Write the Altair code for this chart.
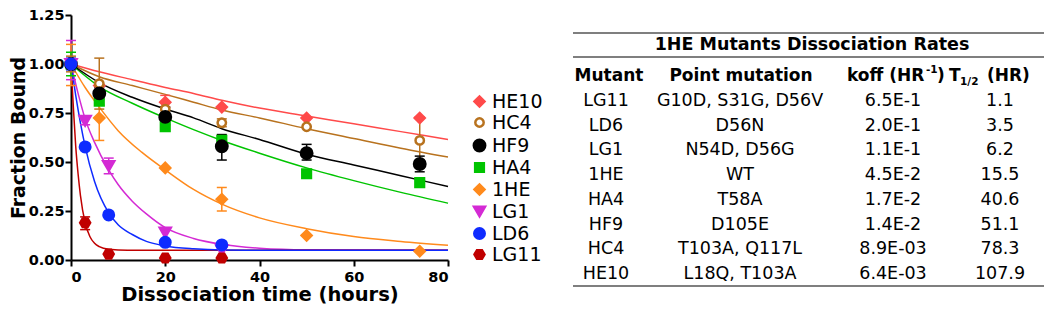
import altair as alt
import pandas as pd

# ---------------- data ----------------
series = ["HE10", "HC4", "HF9", "HA4", "1HE", "LG1", "LD6", "LG11"]
colors = ["#FF4A4A", "#B8721E", "#000000", "#00C400", "#FF8A1C", "#D42AD4", "#0F2BFF", "#C00000"]
fills = ["#FF4A4A", "#FFFFFF", "#000000", "#00C400", "#FF8A1C", "#D42AD4", "#0F2BFF", "#C00000"]
hexagon = "M-1,0L-0.5,-0.866L0.5,-0.866L1,0L0.5,0.866L-0.5,0.866Z"
shapes = ["diamond", "circle", "circle", "square", "diamond", "triangle-down", "circle", hexagon]
sizes = [100, 70, 130, 75, 100, 120, 110, 100]
draw_order = ["HA4", "HE10", "HC4", "HF9", "1HE", "LG1", "LG11", "LD6"]

# measured points (time in hours, fraction bound)
t_HE10 = [0, 6, 20, 32, 50, 74]
v_HE10 = [1.0, 0.89, 0.805, 0.78, 0.725, 0.725]
t_HC4 = [0, 6, 20, 32, 50, 74]
v_HC4 = [1.0, 0.90, 0.77, 0.70, 0.68, 0.61]
t_HF9 = [0, 6, 20, 32, 50, 74]
v_HF9 = [1.0, 0.85, 0.73, 0.58, 0.545, 0.49]
t_HA4 = [0, 6, 20, 32, 50, 74]
v_HA4 = [1.0, 0.81, 0.68, 0.61, 0.44, 0.395]
t_1HE = [0, 6, 20, 32, 50, 74]
v_1HE = [1.0, 0.725, 0.47, 0.31, 0.125, 0.045]
t_LG1 = [0, 3, 8, 20, 32]
v_LG1 = [1.0, 0.71, 0.48, 0.14, 0.05]
t_LD6 = [0, 3, 8, 20, 32]
v_LD6 = [1.0, 0.577, 0.23, 0.09, 0.077]
t_LG11 = [0, 3, 8, 20, 32]
v_LG11 = [1.0, 0.19, 0.03, 0.01, 0.01]

# error bars
err_series = ["LG1", "1HE", "HA4", "HC4", "LD6", "LG1", "LG11", "HC4", "1HE", "HF9", "HA4",
              "LG1", "HE10", "HF9", "HC4", "HC4", "HF9", "1HE", "HF9", "HF9", "HC4"]
err_time = [0, 0, 0, 0, 0, 3, 3, 6, 6, 6, 6, 8, 20, 20, 20, 32, 32, 32, 50, 74, 74]
err_lo = [0.92, 0.89, 0.94, 0.96, 0.97, 0.69, 0.155, 0.77, 0.61, 0.82, 0.79,
          0.44, 0.78, 0.69, 0.74, 0.68, 0.51, 0.25, 0.51, 0.45, 0.49]
err_hi = [1.12, 1.10, 1.06, 1.04, 1.03, 0.73, 0.22, 1.03, 0.84, 0.88, 0.83,
          0.52, 0.84, 0.78, 0.80, 0.72, 0.64, 0.37, 0.59, 0.53, 0.73]

# fitted decay curves
ct_slow = [0, 6, 13, 20, 26, 32, 40, 50, 60, 70, 80]
cv_HE10 = [1.0, 0.96, 0.92, 0.88, 0.85, 0.815, 0.775, 0.735, 0.695, 0.655, 0.615]
cv_HC4 = [1.0, 0.935, 0.89, 0.845, 0.805, 0.765, 0.725, 0.67, 0.62, 0.57, 0.525]
cv_HF9 = [1.0, 0.905, 0.83, 0.77, 0.725, 0.67, 0.615, 0.54, 0.485, 0.43, 0.375]
cv_HA4 = [1.0, 0.885, 0.80, 0.725, 0.665, 0.61, 0.545, 0.47, 0.405, 0.345, 0.29]
ct_1HE = [0, 3, 6, 10, 15, 20, 26, 32, 40, 50, 60, 70, 80]
cv_1HE = [1.0, 0.88, 0.78, 0.66, 0.55, 0.46, 0.36, 0.285, 0.215, 0.16, 0.12, 0.095, 0.075]
ct_LG1 = [0, 1.5, 3, 5, 8, 10, 13, 16, 20, 26, 32, 40, 50, 80]
cv_LG1 = [1.0, 0.85, 0.72, 0.6, 0.46, 0.385, 0.3, 0.235, 0.165, 0.11, 0.08, 0.06, 0.052, 0.05]
ct_LD6 = [0, 1, 2, 3, 5, 8, 10, 13, 16, 20, 26, 32, 40, 80]
cv_LD6 = [1.0, 0.84, 0.70, 0.58, 0.40, 0.24, 0.18, 0.13, 0.095, 0.072, 0.057, 0.051, 0.05, 0.05]
ct_LG11 = [0, 0.5, 1, 1.5, 2, 3, 4, 5, 6, 8, 12, 80]
cv_LG11 = [1.0, 0.78, 0.58, 0.44, 0.33, 0.19, 0.12, 0.085, 0.068, 0.055, 0.05, 0.05]

# table
table_title = "1HE Mutants Dissociation Rates"
mutants = ["LG11", "LD6", "LG1", "1HE", "HA4", "HF9", "HC4", "HE10"]
point_mutations = ["G10D, S31G, D56V", "D56N", "N54D, D56G", "WT", "T58A", "D105E",
                   "T103A, Q117L", "L18Q, T103A"]
koff = ["6.5E-1", "2.0E-1", "1.1E-1", "4.5E-2", "1.7E-2", "1.4E-2", "8.9E-03", "6.4E-03"]
t_half = ["1.1", "3.5", "6.2", "15.5", "40.6", "51.1", "78.3", "107.9"]

# ---------------- frames ----------------
meas = {"HE10": (t_HE10, v_HE10), "HC4": (t_HC4, v_HC4), "HF9": (t_HF9, v_HF9),
        "HA4": (t_HA4, v_HA4), "1HE": (t_1HE, v_1HE), "LG1": (t_LG1, v_LG1),
        "LD6": (t_LD6, v_LD6), "LG11": (t_LG11, v_LG11)}
pts = []
for s in draw_order:
    ts, vs = meas[s]
    for t, v in zip(ts, vs):
        pts.append({"series": s, "t": t, "v": v})
pts_df = pd.DataFrame(pts)

curves = {"HE10": (ct_slow, cv_HE10), "HC4": (ct_slow, cv_HC4), "HF9": (ct_slow, cv_HF9),
          "HA4": (ct_slow, cv_HA4), "1HE": (ct_1HE, cv_1HE), "LG1": (ct_LG1, cv_LG1),
          "LD6": (ct_LD6, cv_LD6), "LG11": (ct_LG11, cv_LG11)}
crv = []
for s in draw_order:
    ts, vs = curves[s]
    for t, v in zip(ts, vs):
        crv.append({"series": s, "t": t, "v": v})
crv_df = pd.DataFrame(crv)

err_df = pd.DataFrame({"series": err_series, "t": err_time, "lo": err_lo, "hi": err_hi})

tbl_df = pd.DataFrame({"row": list(range(len(mutants))), "mutant": mutants,
                       "pm": point_mutations, "koff": koff, "th": t_half})

# ---------------- styling ----------------
FONT = "DejaVu Sans"
W, H = 377, 245
color_of = dict(zip(series, colors))
xs = alt.Scale(domain=[0, 80], nice=False, zero=False)
ys = alt.Scale(domain=[0, 1.25], nice=False)
# line/errorbar colour scale (domain in drawing order so it is kept apart from the legend scales)
cs = alt.Scale(domain=draw_order, range=[color_of[s] for s in draw_order])
xenc = alt.X("t:Q", scale=xs, title="Dissociation time (hours)",
             axis=alt.Axis(values=[0, 20, 40, 60, 80], format="d"))

leg = alt.Legend(orient="none", legendX=399, legendY=77, title=None,
                 labelFont=FONT, labelFontSize=19, labelColor="black",
                 labelOffset=3, rowPadding=1, symbolStrokeWidth=2.5, padding=0)

lines = alt.Chart(crv_df).mark_line(strokeWidth=1.5, interpolate="monotone").encode(
    x=xenc,
    y=alt.Y("v:Q", scale=ys, axis=None),
    color=alt.Color("series:N", scale=cs, legend=None),
)

bars = alt.Chart(err_df).mark_rule(strokeWidth=1.5).encode(
    x=xenc,
    y=alt.Y("lo:Q", scale=ys, axis=None),
    y2="hi:Q",
    color=alt.Color("series:N", scale=cs, legend=None),
)

caps = alt.Chart(err_df).transform_fold(["lo", "hi"], as_=["cap", "cv"]).mark_tick(
    orient="horizontal", size=10, thickness=1.5, opacity=1
).encode(
    x=xenc,
    y=alt.Y("cv:Q", scale=ys, axis=None),
    color=alt.Color("series:N", scale=cs, legend=None),
)

points = alt.Chart(pts_df).mark_point(strokeWidth=2.5, opacity=1).encode(
    x=xenc,
    y=alt.Y("v:Q", scale=ys, title="Fraction Bound",
            axis=alt.Axis(values=[0, 0.25, 0.5, 0.75, 1.0, 1.25], format=".2f")),
    stroke=alt.Stroke("series:N", scale=alt.Scale(domain=series, range=colors), legend=leg),
    fill=alt.Fill("series:N", scale=alt.Scale(domain=series, range=fills), legend=leg),
    shape=alt.Shape("series:N", scale=alt.Scale(domain=series, range=shapes), legend=leg),
    size=alt.Size("series:N", scale=alt.Scale(type="ordinal", domain=series, range=sizes), legend=leg),
)

# ---------------- table ----------------
row_y = alt.Y("row:Q", scale=alt.Scale(domain=[0, 7], range=[86, 259], nice=False, zero=False), axis=None)
body_kw = dict(font=FONT, fontSize=17.5, color="black", align="center", baseline="middle")
col_mut = alt.Chart(tbl_df).mark_text(**body_kw).encode(x=alt.value(535), y=row_y, text="mutant:N")
col_pm = alt.Chart(tbl_df).mark_text(**body_kw).encode(x=alt.value(669), y=row_y, text="pm:N")
col_k = alt.Chart(tbl_df).mark_text(**body_kw).encode(x=alt.value(822), y=row_y, text="koff:N")
col_t = alt.Chart(tbl_df).mark_text(**body_kw).encode(x=alt.value(929), y=row_y, text="th:N")

hdr = dict(font=FONT, fontWeight="bold", color="black", baseline="middle")
one = pd.DataFrame({"a": [0]})
def txt(s, x, y, size=17, align="center"):
    return alt.Chart(one).mark_text(fontSize=size, align=align, **hdr).encode(
        x=alt.value(x), y=alt.value(y), text=alt.value(s))

title_t = txt(table_title, 741, 30, size=17.5)
h1 = txt("Mutant", 538, 61)
h2 = txt("Point mutation", 670, 61)
h3a = txt("koff (HR", 776, 61, align="left")
h3b = txt("-1", 855, 55, size=10.5, align="left")
h3c = txt(")", 866, 61, align="left")
h4a = txt("T", 878, 61, align="left")
h4b = txt("1/2", 889, 67, size=10.5, align="left")
h4c = txt("(HR)", 916, 61, align="left")

def hrule(y):
    return alt.Chart(one).mark_rule(color="black", strokeWidth=1.2).encode(
        x=alt.value(502), x2=alt.value(973), y=alt.value(y))

rules = [hrule(18), hrule(42), hrule(271)]

chart = alt.layer(
    lines, bars, caps, points,
    col_mut, col_pm, col_k, col_t,
    title_t, h1, h2, h3a, h3b, h3c, h4a, h4b, h4c, *rules
).resolve_scale(y="independent").properties(
    width=W, height=H,
    autosize=alt.AutoSizeParams(type="none"),
    padding={"left": 63, "top": 7, "right": 596, "bottom": 46},
).configure_view(stroke=None).configure_axis(
    domainColor="black", domainWidth=2, tickColor="black", tickWidth=2, tickSize=6,
    labelFont=FONT, labelFontWeight="bold", labelFontSize=14.5, labelColor="black",
    titleFont=FONT, titleFontWeight="bold", titleFontSize=19.5, titleColor="black", grid=False,
).configure_axisY(labelPadding=1, titlePadding=0, titleFontSize=19).configure_axisX(labelPadding=4, titlePadding=2)

chart.save("out.html", embed_options={"renderer": "svg", "actions": False})
